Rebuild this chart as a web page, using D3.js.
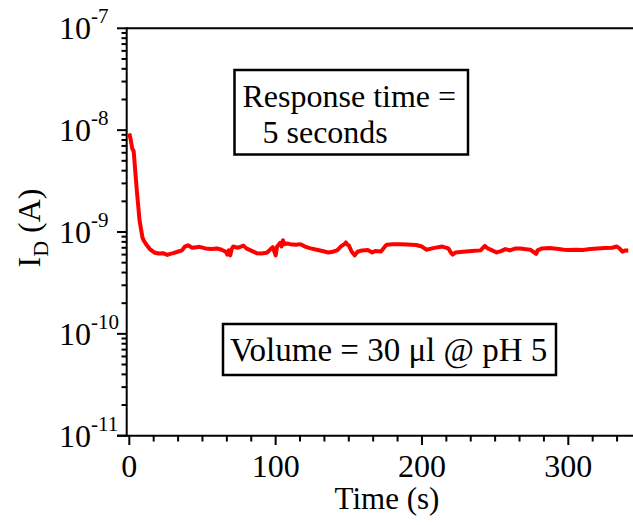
<!DOCTYPE html>
<html><head><meta charset="utf-8">
<script src="https://cdn.jsdelivr.net/npm/d3@7"></script>
<style>body{margin:0;background:#fff}svg{display:block}text{font-family:"Liberation Serif","Times New Roman",serif;fill:#000}</style>
</head><body>
<svg id="c" width="633" height="525" font-family="Liberation Serif, Times New Roman, serif"></svg>
<script>
const time = [0,1,2,3,5,7,9,10,12,14,17,20,23,26,28,30,33,36,38,40,43,46,48,52,56,60,63,66,67,68,69,70,71,74,78,80,84,87,90,94,98,99,100,101,103,104,105,106,108,110,114,117,120,124,128,132,136,139,142,145,147,148,149,150,152,154,156,159,163,166,168,172,175,176,180,185,190,196,200,203,207,211,214,218,220,221,223,228,234,240,243,245,248,251,254,257,260,264,267,270,274,278,279,282,287,292,297,300,305,310,315,320,325,330,333,335,337,339,341];
const current = [93,80,66,62,27,13,8.8,8.2,7.4,6.8,6.3,6.15,6.2,5.95,6.1,6.2,6.4,6.6,7.2,7.4,7.0,7.1,7.15,6.9,6.8,6.9,6.7,6.4,6.0,6.6,5.9,6.8,7.2,7.0,7.35,6.9,6.5,6.2,6.15,6.25,7.1,6.5,5.9,7.2,7.8,7.2,8.3,7.6,7.7,7.6,7.5,7.6,7.2,6.9,6.7,6.5,6.3,6.4,6.6,7.3,7.6,7.9,7.5,7.4,6.4,5.9,6.4,6.6,6.65,6.3,6.5,6.45,7.3,7.5,7.6,7.6,7.55,7.45,7.2,6.7,6.9,7.1,7.2,6.9,6.2,6.0,6.3,6.4,6.5,6.6,7.3,6.9,6.6,6.3,6.5,6.8,6.6,6.9,6.9,6.8,6.7,6.1,6.6,6.9,6.95,6.85,6.7,6.65,6.7,6.65,6.8,6.9,6.95,7.0,7.2,6.9,6.4,6.6,6.6].map(v=>v*1e-10);
const xTicks = [0,100,200,300];
const yTicks = [-11,-10,-9,-8,-7];

const svg = d3.select("#c");
const x = d3.scaleLinear().domain([0,300]).range([129.3,568.3]);
const y = d3.scaleLog().domain([1e-11,1e-7]).range([435.7,28.3]);
const xRight = x.invert(640);

// minor x ticks
const xMinor = d3.range(0, 341, 100/6).filter(v=>!xTicks.some(t=>Math.abs(t-v)<1e-6));
svg.append("g").selectAll("line").data(xMinor).join("line")
  .attr("x1",d=>x(d)).attr("x2",d=>x(d)).attr("y1",435.7).attr("y2",441.5)
  .attr("stroke","#000").attr("stroke-width",2);
svg.append("g").selectAll("line").data(xTicks).join("line")
  .attr("x1",d=>x(d)).attr("x2",d=>x(d)).attr("y1",435.7).attr("y2",445)
  .attr("stroke","#000").attr("stroke-width",2);
svg.append("g").selectAll("text").data(xTicks).join("text")
  .attr("x",d=>x(d)).attr("y",477).attr("text-anchor","middle")
  .style("font-size","32px").text(d=>d);

// minor y ticks
const yMinor = [];
for (let e=-11;e<-7;e++) for (let m=2;m<10;m++) yMinor.push(m*Math.pow(10,e));
svg.append("g").selectAll("line").data(yMinor).join("line")
  .attr("x1",121.5).attr("x2",126.7).attr("y1",d=>y(d)).attr("y2",d=>y(d))
  .attr("stroke","#000").attr("stroke-width",2);
svg.append("g").selectAll("line").data(yTicks).join("line")
  .attr("x1",117).attr("x2",126.7).attr("y1",d=>y(Math.pow(10,d))).attr("y2",d=>y(Math.pow(10,d)))
  .attr("stroke","#000").attr("stroke-width",2);
const yl = svg.append("g").selectAll("text").data(yTicks).join("text")
  .attr("x",59).attr("y",d=>y(Math.pow(10,d))+11).style("font-size","32px");
yl.append("tspan").text("10");
yl.append("tspan").attr("dy",-16).style("font-size","21px").text(d=>d);

// frame
svg.append("line").attr("x1",126.7).attr("x2",126.7).attr("y1",27.3).attr("y2",436.7).attr("stroke","#000").attr("stroke-width",2);
svg.append("line").attr("x1",117).attr("x2",x(xRight)).attr("y1",435.7).attr("y2",435.7).attr("stroke","#000").attr("stroke-width",2);
svg.append("line").attr("x1",126.7).attr("x2",x(xRight)).attr("y1",28.3).attr("y2",28.3).attr("stroke","#000").attr("stroke-width",2);

// data line
const line = d3.line().x((d,i)=>x(time[i])).y(d=>y(d));
svg.append("path").datum(current).attr("d",line).attr("fill","none")
  .attr("stroke","#ff0000").attr("stroke-width",4).attr("stroke-linejoin","round");

// axis titles
svg.append("text").attr("x",387).attr("y",509).attr("text-anchor","middle").style("font-size","31px").text("Time (s)");
const yt = svg.append("text").attr("transform","translate(40,228) rotate(-90)").attr("text-anchor","middle").style("font-size","32px");
yt.append("tspan").text("I");
yt.append("tspan").attr("dy",8).style("font-size","22px").text("D");
yt.append("tspan").attr("dy",-8).text(" (A)");

// annotation boxes
svg.append("rect").attr("x",234.5).attr("y",70).attr("width",233.5).attr("height",84.5).attr("fill","none").attr("stroke","#000").attr("stroke-width",2.5);
svg.append("text").attr("x",242.5).attr("y",107).style("font-size","32px").text("Response time =");
svg.append("text").attr("x",262.5).attr("y",143).style("font-size","32px").text("5 seconds");
svg.append("rect").attr("x",223).attr("y",324).attr("width",333).attr("height",51).attr("fill","none").attr("stroke","#000").attr("stroke-width",2.5);
svg.append("text").attr("x",230).attr("y",361).style("font-size","33px").text("Volume = 30 μl @ pH 5");
</script>
</body></html>
